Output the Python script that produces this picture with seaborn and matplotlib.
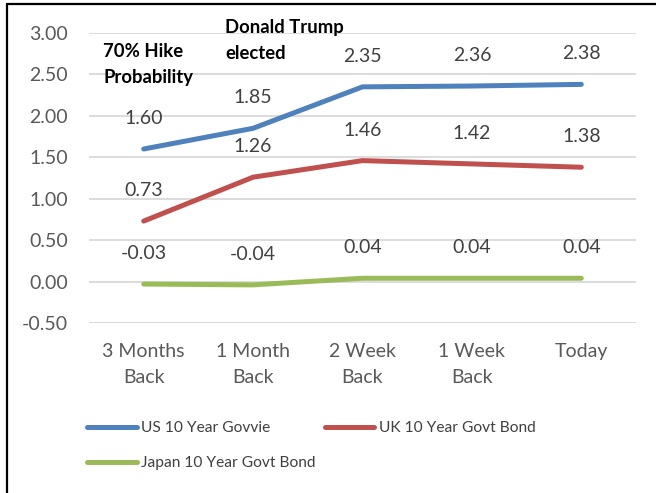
import matplotlib
matplotlib.use("Agg")
import matplotlib.pyplot as plt
from matplotlib.lines import Line2D
import seaborn as sns
import pandas as pd

# Bond yield snapshots (%)
periods = ["3 Months\nBack", "1 Month\nBack", "2 Week\nBack", "1 Week\nBack", "Today"]
us_10y = [1.60, 1.85, 2.35, 2.36, 2.38]
uk_10y = [0.73, 1.26, 1.46, 1.42, 1.38]
japan_10y = [-0.03, -0.04, 0.04, 0.04, 0.04]

series_names = ["US 10 Year Govvie", "UK 10 Year Govt Bond", "Japan 10 Year Govt Bond"]
series_values = [us_10y, uk_10y, japan_10y]
series_colors = ["#4F81BD", "#C0504D", "#9BBB59"]
y_ticks = [-0.5, 0.0, 0.5, 1.0, 1.5, 2.0, 2.5, 3.0]

rows = []
for name, vals in zip(series_names, series_values):
    for i, (p, v) in enumerate(zip(periods, vals)):
        rows.append({"period": p, "pos": i, "yield": v, "series": name})
df = pd.DataFrame(rows)

sns.set_theme(style="white")
plt.rcParams["font.family"] = ["Lato", "DejaVu Sans"]

fig = plt.figure(figsize=(6.56, 4.93), dpi=100)
ax = fig.add_axes([89 / 656, 1 - 323 / 493, (636 - 89) / 656, (323 - 33) / 493])

sns.lineplot(
    data=df, x="pos", y="yield", hue="series", hue_order=series_names,
    palette=dict(zip(series_names, series_colors)), linewidth=3.6,
    sort=False, legend=False, ax=ax, solid_capstyle="round",
)

# Value labels above each point
for vals in series_values:
    for i, v in enumerate(vals):
        ax.annotate(f"{v:.2f}", (i, v), xytext=(0, 22), textcoords="offset points",
                    ha="center", va="center", fontsize=14, color="#404040")

# Event notes
ax.text(-0.372, 2.62, "70% Hike\nProbability", fontsize=13.3, fontweight="bold",
        color="black", ha="left", va="center", linespacing=1.6)
ax.text(0.743, 2.91, "Donald Trump\nelected", fontsize=13.3, fontweight="bold",
        color="black", ha="left", va="center", linespacing=1.6)

ax.set_xlim(-0.5, len(periods) - 0.5)
ax.set_ylim(-0.5, 3.0)
ax.set_yticks(y_ticks)
ax.set_yticklabels([f"{t:.2f}" for t in y_ticks])
ax.set_xticks(range(len(periods)))
ax.set_xticklabels(periods, linespacing=1.6)
ax.tick_params(axis="y", length=0, pad=15, labelsize=14, labelcolor="#595959")
ax.tick_params(axis="x", length=0, pad=14.5, labelsize=14, labelcolor="#595959")
ax.set_xlabel("")
ax.set_ylabel("")
ax.yaxis.grid(True, color="#D9D9D9", linewidth=1.3)
ax.xaxis.grid(False)
for s in ax.spines.values():
    s.set_visible(False)

# Legend: two entries on the first row, one on the second
handles = [Line2D([0], [0], color=c, linewidth=3.6, solid_capstyle="round") for c in series_colors]
order = [0, 2, 1]
fig.legend([handles[i] for i in order], [series_names[i] for i in order],
           loc="upper left", bbox_to_anchor=(87 / 656, 1 - 421 / 493), ncol=2,
           frameon=False, fontsize=11.2, handlelength=3.2, handletextpad=0.3,
           labelspacing=1.35, columnspacing=0.55, borderpad=0, borderaxespad=0,
           labelcolor="#404040")

# Outer frame
fig.add_artist(Line2D([6.5 / 656, 6.5 / 656], [0, 1 - 3.5 / 493], color="black", linewidth=1.6, transform=fig.transFigure))
fig.add_artist(Line2D([6.5 / 656, 1], [1 - 3.5 / 493, 1 - 3.5 / 493], color="black", linewidth=1.6, transform=fig.transFigure))

fig.savefig("out.png", dpi=100, facecolor="white")
